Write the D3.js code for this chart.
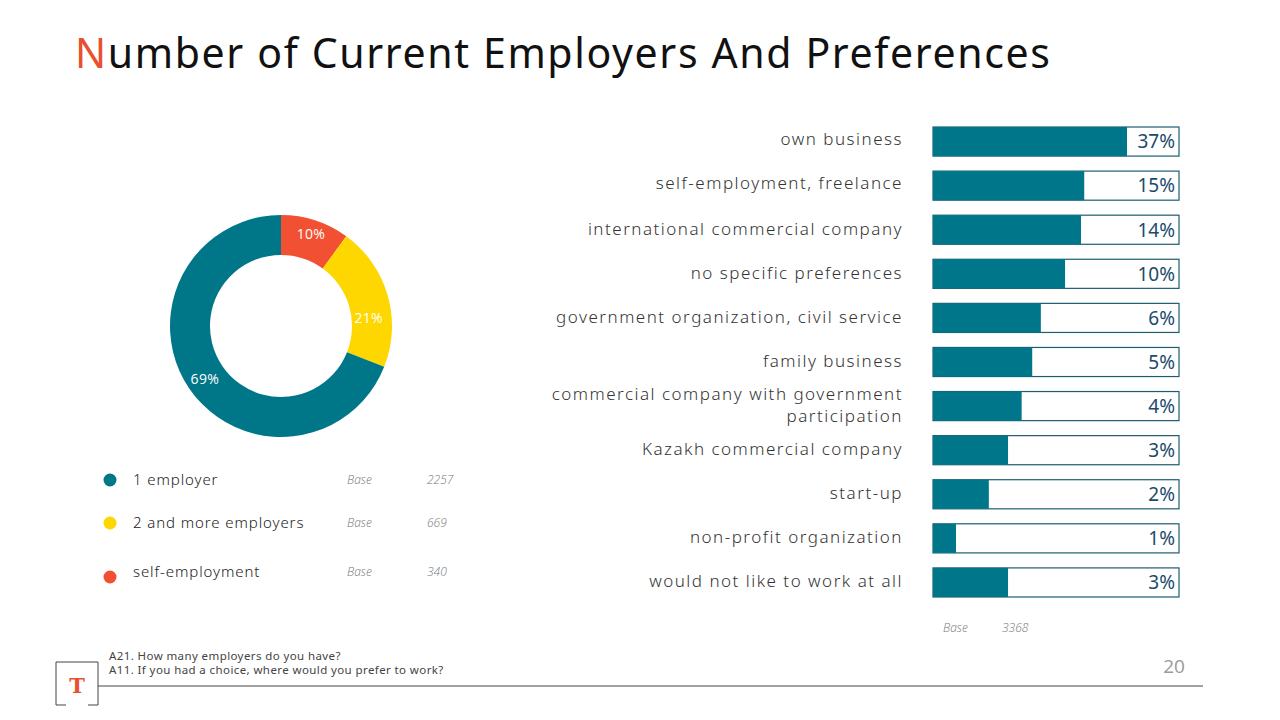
<!DOCTYPE html>
<html>
<head>
<meta charset="utf-8">
<script src="https://cdn.jsdelivr.net/npm/d3@7"></script>
<style>
  html, body { margin: 0; padding: 0; background: #fff; }
  svg { display: block; }
</style>
</head>
<body>
<svg id="chart" width="1280" height="720"></svg>
<script>
(function() {
  'use strict';

// donut data
var donutLabels = ["1 employer", "2 and more employers", "self-employment"];
var donutValues = [69, 21, 10];
var donutBases  = [2257, 669, 340];
var donutColors = ["#007789", "#FFD700", "#F25032"];

// bar data
var barLabels = [
  ["own business"],
  ["self-employment, freelance"],
  ["international commercial company"],
  ["no specific preferences"],
  ["government organization, civil service"],
  ["family business"],
  ["commercial company with government", "participation"],
  ["Kazakh commercial company"],
  ["start-up"],
  ["non-profit organization"],
  ["would not like to work at all"]
];
var barValues = [37, 15, 14, 10, 6, 5, 4, 3, 2, 1, 3];
var barBase = 3368;

var svg = d3.select("#chart");

// title
var title = svg.append("text")
  .attr("x", 75).attr("y", 68)
  .attr("textLength", 975).attr("lengthAdjust", "spacing")
  .style("font-family", "'Noto Sans', sans-serif")
  .style("font-size", "41px")
  .attr("fill", "#111");
title.append("tspan").attr("fill", "#E8502F").text("N");
title.append("tspan").text("umber of Current Employers And Preferences");

/* Donut */
var cx = 281, cy = 326;
var arc = d3.arc().innerRadius(71).outerRadius(111);

// red slice first from 12 o'clock, then yellow, then teal
var order = [2, 1, 0];
var pie = d3.pie().sort(null).value(function(d) { return donutValues[d]; });
var arcs = pie(order);

// label spots on the ring (angle in degrees from 12 o'clock, radius)
var labelSpot = { 2: [18, 97], 1: [85, 88], 0: [235, 93] };

var g = svg.append("g").attr("transform", "translate(" + cx + "," + cy + ")");
g.selectAll("path")
  .data(arcs)
  .enter().append("path")
  .attr("d", arc)
  .attr("fill", function(d) { return donutColors[d.data]; });

g.selectAll("text")
  .data(arcs)
  .enter().append("text")
  .attr("transform", function(d) {
    var s = labelSpot[d.data], a = s[0] * Math.PI / 180;
    return "translate(" + [Math.sin(a) * s[1], -Math.cos(a) * s[1]] + ")";
  })
  .attr("text-anchor", "middle")
  .attr("dy", "0.35em")
  .attr("fill", "#fff")
  .style("font-family", "'Open Sans', sans-serif")
  .style("font-size", "14px")
  .style("letter-spacing", "0.3px")
  .text(function(d) { return donutValues[d.data] + "%"; });

// legend
var legRowY = [480, 523, 572];
var leg = svg.selectAll(".leg")
  .data(d3.range(3))
  .enter().append("g")
  .attr("class", "leg")
  .attr("transform", function(i) { return "translate(0," + legRowY[i] + ")"; });

leg.append("circle")
  .attr("cx", 110).attr("cy", function(i) { return i === 2 ? 5 : 0; }).attr("r", 6.5)
  .attr("fill", function(i) { return donutColors[i]; });
leg.append("text")
  .attr("x", 133).attr("dy", "0.35em")
  .attr("fill", "#222")
  .style("font-family", "'Noto Sans', sans-serif")
  .style("font-size", "15px")
  .style("font-weight", "300")
  .style("letter-spacing", "0.9px")
  .text(function(i) { return donutLabels[i]; });
leg.append("text")
  .attr("x", 347).attr("dy", "0.35em")
  .attr("fill", "#777")
  .style("font-family", "'Open Sans', sans-serif")
  .style("font-size", "12px")
  .style("font-style", "italic")
  .style("font-weight", "300")
  .text("Base");
leg.append("text")
  .attr("x", 427).attr("dy", "0.35em")
  .attr("fill", "#777")
  .style("font-family", "'Open Sans', sans-serif")
  .style("font-size", "12px")
  .style("font-style", "italic")
  .style("font-weight", "300")
  .text(function(i) { return donutBases[i]; });

/* Bars */
var barX = 933, barW = 246;
var y = d3.scaleBand()
  .domain(d3.range(barValues.length))
  .range([127, 597])
  .paddingInner(15 / 44.1).paddingOuter(0);
var w = d3.scaleLog().domain([1, 37]).range([23, 194]);

var rows = svg.selectAll(".row")
  .data(barValues)
  .enter().append("g")
  .attr("class", "row")
  .attr("transform", function(d, i) { return "translate(0," + y(i) + ")"; });

rows.append("rect")
  .attr("x", barX).attr("y", 0)
  .attr("width", barW).attr("height", y.bandwidth())
  .attr("fill", "#fff")
  .attr("stroke", "#1E5C72").attr("stroke-width", 1.2);
rows.append("rect")
  .attr("x", barX).attr("y", 0)
  .attr("width", function(d) { return w(d); }).attr("height", y.bandwidth())
  .attr("fill", "#00768A");
rows.append("text")
  .attr("x", barX + barW - 4).attr("y", y.bandwidth() / 2).attr("dy", "0.36em")
  .attr("text-anchor", "end")
  .attr("fill", "#1B4B6B")
  .style("font-family", "'Noto Sans', sans-serif")
  .style("font-size", "19px")
  .text(function(d) { return d + "%"; });

rows.each(function(d, i) {
  var lines = barLabels[i];
  var t = d3.select(this).append("text")
    .attr("text-anchor", "end")
    .attr("fill", "#333")
    .style("font-family", "'Noto Sans', sans-serif")
    .style("font-size", "17px")
    .style("font-weight", "300")
    .style("letter-spacing", "1.5px");
  var top = y.bandwidth() / 2 + 5 - (lines.length - 1) * 11 - (i < 2 ? 2 : 0);
  lines.forEach(function(s, k) {
    t.append("tspan").attr("x", 903).attr("y", top + k * 22).text(s);
  });
});

svg.append("text").attr("x", 943).attr("y", 632)
  .attr("fill", "#777")
  .style("font-family", "'Open Sans', sans-serif")
  .style("font-size", "12px").style("font-style", "italic").style("font-weight", "300")
  .text("Base");
svg.append("text").attr("x", 1002).attr("y", 632)
  .attr("fill", "#777")
  .style("font-family", "'Open Sans', sans-serif")
  .style("font-size", "12px").style("font-style", "italic").style("font-weight", "300")
  .text(barBase);

/* Footer */
svg.append("path")
  .attr("d", "M66,705H56V662H98V705H88")
  .attr("fill", "none").attr("stroke", "#444").attr("stroke-width", 1);
svg.append("text").attr("x", 77).attr("y", 693)
  .attr("text-anchor", "middle")
  .attr("fill", "#E8502F")
  .style("font-family", "'DejaVu Serif', serif")
  .style("font-size", "21px").style("font-weight", "bold")
  .text("T");
svg.append("line")
  .attr("x1", 98).attr("x2", 1203).attr("y1", 686).attr("y2", 686)
  .attr("stroke", "#444").attr("stroke-width", 1);
svg.append("text").attr("x", 109).attr("y", 660)
  .attr("fill", "#444")
  .style("font-family", "'Noto Sans', sans-serif").style("font-size", "11.5px")
  .style("letter-spacing", "0.4px")
  .text("A21. How many employers do you have?");
svg.append("text").attr("x", 109).attr("y", 674)
  .attr("fill", "#444")
  .style("font-family", "'Noto Sans', sans-serif").style("font-size", "11.5px")
  .style("letter-spacing", "0.4px")
  .text("A11. If you had a choice, where would you prefer to work?");
svg.append("text").attr("x", 1174).attr("y", 673)
  .attr("text-anchor", "middle")
  .attr("fill", "#999")
  .style("font-family", "'Open Sans', sans-serif").style("font-size", "19px")
  .text("20");

})();
</script>
</body>
</html>
